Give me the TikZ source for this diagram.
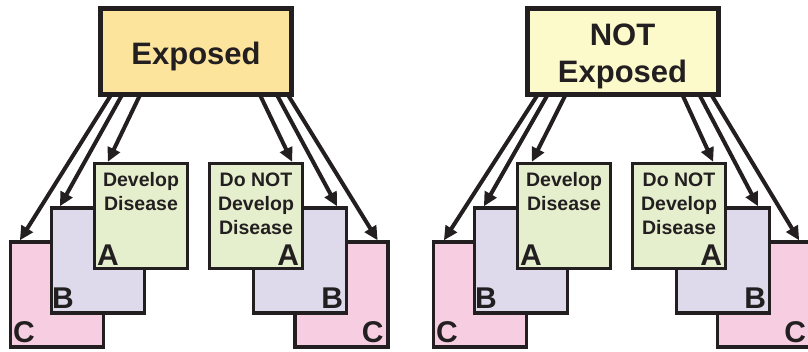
\documentclass[tikz,border=0pt]{standalone}
\usepackage{fontspec}
\setmainfont{Liberation Sans}
\usetikzlibrary{arrows.meta}
\definecolor{ink}{RGB}{35,31,32}
\definecolor{expfill}{RGB}{253,228,156}
\definecolor{notfill}{RGB}{252,249,203}
\definecolor{cardA}{RGB}{230,239,205}
\definecolor{cardB}{RGB}{222,218,235}
\definecolor{cardC}{RGB}{247,205,225}
\begin{document}
\begin{tikzpicture}[x=1pt,y=-1pt,
    headbox/.style={draw=ink, line width=5pt, minimum width=191pt, minimum height=86pt},
    card/.style={draw=ink, line width=3.3pt, minimum width=93pt, minimum height=105pt},
    arr/.style={draw=ink, line width=4pt, -{Triangle[length=14pt,width=13pt]}},
    headtxt/.style={text=ink, font=\bfseries\fontsize{31}{37}\selectfont, align=center, inner sep=0pt},
    cardtxt/.style={text=ink, font=\bfseries\fontsize{19.5}{24}\selectfont, align=center, inner sep=0pt},
    cardtag/.style={text=ink, font=\bfseries\fontsize{30}{30}\selectfont, inner sep=0pt}]
    \useasboundingbox (0,0) rectangle (808,352);
    % exposed
    \node[headbox, fill=expfill] (E) at (196,51.5) {};
    \node[card, fill=cardC] (EDc) at (57,294.5) {};
    \node[card, fill=cardB] (EDb) at (98,260.5) {};
    \node[card, fill=cardA] (EDa) at (141,216) {};
    \node[card, fill=cardC] (ENc) at (341.5,294.5) {};
    \node[card, fill=cardB] (ENb) at (300,260.5) {};
    \node[card, fill=cardA] (ENa) at (256,216) {};
    \node[headtxt, anchor=base] (Etxt) at (196,65) {Exposed};
    \node[cardtxt, anchor=base] (EDtxt) at (141,211) {Develop\\Disease};
    \node[cardtxt, anchor=base] (ENtxt) at (256,235) {Do NOT\\Develop\\Disease};
    \node[cardtag, anchor=base west] (EDatag) at ([xshift=4pt,yshift=5pt]EDa.south west) {A};
    \node[cardtag, anchor=base west] (EDbtag) at ([xshift=2pt,yshift=6pt]EDb.south west) {B};
    \node[cardtag, anchor=base west] (EDctag) at ([xshift=4pt,yshift=6pt]EDc.south west) {C};
    \node[cardtag, anchor=base east] (ENatag) at ([xshift=-5pt,yshift=5pt]ENa.south east) {A};
    \node[cardtag, anchor=base east] (ENbtag) at ([xshift=-5pt,yshift=6pt]ENb.south east) {B};
    \node[cardtag, anchor=base east] (ENctag) at ([xshift=-6pt,yshift=6pt]ENc.south east) {C};
    \draw[arr] ([xshift=13pt,yshift=2pt]E.south west) -- ([xshift=11pt]EDc.north west);
    \draw[arr] ([xshift=24pt,yshift=2pt]E.south west) -- ([xshift=10pt]EDb.north west);
    \draw[arr] ([xshift=42pt,yshift=2pt]E.south west) -- ([xshift=15pt]EDa.north west);
    \draw[arr] ([xshift=-34pt,yshift=2pt]E.south east) -- ([xshift=-12pt]ENa.north east);
    \draw[arr] ([xshift=-17pt,yshift=2pt]E.south east) -- ([xshift=-11pt]ENb.north east);
    \draw[arr] ([xshift=-6pt,yshift=2pt]E.south east) -- ([xshift=-12pt]ENc.north east);
    % not exposed
    \node[headbox, fill=notfill] (U) at (622.5,51.5) {};
    \node[card, fill=cardC] (UDc) at (480,294.5) {};
    \node[card, fill=cardB] (UDb) at (521,260.5) {};
    \node[card, fill=cardA] (UDa) at (564,216) {};
    \node[card, fill=cardC] (UNc) at (764,294.5) {};
    \node[card, fill=cardB] (UNb) at (723,260.5) {};
    \node[card, fill=cardA] (UNa) at (679,216) {};
    \node[headtxt, anchor=base] (Utxt) at (622.5,83) {NOT\\Exposed};
    \node[cardtxt, anchor=base] (UDtxt) at (564,211) {Develop\\Disease};
    \node[cardtxt, anchor=base] (UNtxt) at (679,235) {Do NOT\\Develop\\Disease};
    \node[cardtag, anchor=base west] (UDatag) at ([xshift=4pt,yshift=5pt]UDa.south west) {A};
    \node[cardtag, anchor=base west] (UDbtag) at ([xshift=2pt,yshift=6pt]UDb.south west) {B};
    \node[cardtag, anchor=base west] (UDctag) at ([xshift=4pt,yshift=6pt]UDc.south west) {C};
    \node[cardtag, anchor=base east] (UNatag) at ([xshift=-5pt,yshift=5pt]UNa.south east) {A};
    \node[cardtag, anchor=base east] (UNbtag) at ([xshift=-5pt,yshift=6pt]UNb.south east) {B};
    \node[cardtag, anchor=base east] (UNctag) at ([xshift=-6pt,yshift=6pt]UNc.south east) {C};
    \draw[arr] ([xshift=13pt,yshift=2pt]U.south west) -- ([xshift=12pt]UDc.north west);
    \draw[arr] ([xshift=23pt,yshift=2pt]U.south west) -- ([xshift=11pt]UDb.north west);
    \draw[arr] ([xshift=41pt,yshift=2pt]U.south west) -- ([xshift=16pt]UDa.north west);
    \draw[arr] ([xshift=-38pt,yshift=2pt]U.south east) -- ([xshift=-14pt]UNa.north east);
    \draw[arr] ([xshift=-21pt,yshift=2pt]U.south east) -- ([xshift=-13pt]UNb.north east);
    \draw[arr] ([xshift=-9pt,yshift=2pt]U.south east) -- ([xshift=-13pt]UNc.north east);
  \end{tikzpicture}
\end{document}
